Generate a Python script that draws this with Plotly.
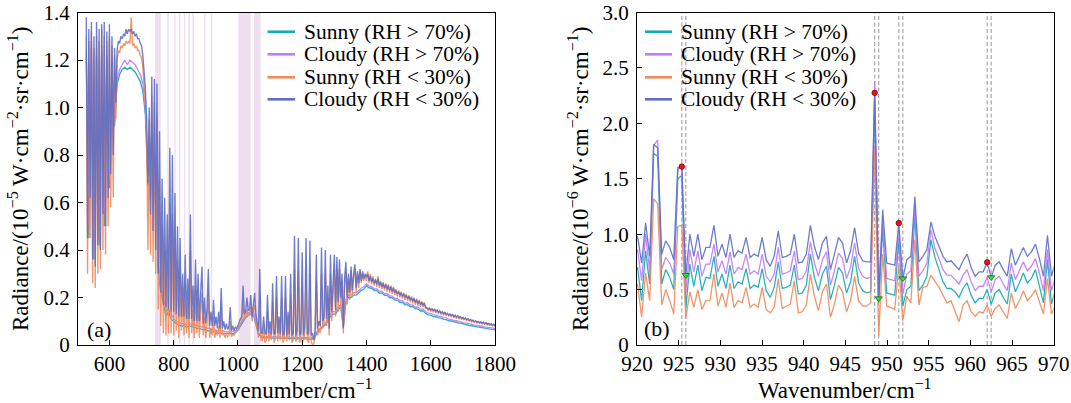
import numpy as np
import plotly.graph_objects as go

# ---------------- data ----------------
series_names = ["Sunny (RH > 70%)", "Cloudy (RH > 70%)", "Sunny (RH < 30%)", "Cloudy (RH < 30%)"]
series_colors = ["#17a9b8", "#c27bfa", "#f08a5c", "#5f6fc6"]

# panel (a): spectrum, 528-1800 cm-1
wn_a_first = 528.0
wn_a_step_fine = 4.0     # Sunny/Cloudy (RH < 30%)
wn_a_step_coarse = 8.0   # Sunny/Cloudy (RH > 70%)

rad_a_cloudy_dry = [
    1.38, 0.45, 1.33, 0.62, 1.36, 0.36, 1.30, 0.33, 1.36, 0.42,
    1.33, 0.40, 1.35, 0.55, 1.36, 0.50, 1.32, 0.62, 1.35, 0.72,
    1.30, 0.80, 1.25, 1.02, 1.24, 1.28, 1.27, 1.30, 1.29, 1.31,
    1.30, 1.33, 1.31, 1.33, 1.32, 1.33, 1.31, 1.32, 1.30, 1.31,
    1.29, 1.29, 1.27, 1.26, 1.22, 1.16, 1.08, 0.95, 0.68, 1.00,
    0.55, 1.13, 0.48, 1.12, 0.40, 1.10, 0.30, 0.90, 0.22, 0.70,
    0.17, 0.62, 0.16, 0.55, 0.15, 0.83, 0.14, 0.80, 0.14, 0.64,
    0.13, 0.50, 0.12, 0.45, 0.12, 0.30, 0.12, 0.38, 0.11, 0.28,
    0.11, 0.55, 0.11, 0.25, 0.10, 0.36, 0.10, 0.30, 0.10, 0.22,
    0.33, 0.09, 0.20, 0.09, 0.16, 0.32, 0.08, 0.14, 0.08, 0.19,
    0.08, 0.12, 0.07, 0.14, 0.07, 0.24, 0.07, 0.10, 0.065, 0.09,
    0.065, 0.08, 0.16, 0.06, 0.08, 0.06, 0.075, 0.07, 0.085, 0.10,
    0.11, 0.12, 0.25, 0.13, 0.14, 0.20, 0.145, 0.15, 0.21, 0.12,
    0.16, 0.22, 0.13, 0.09, 0.06, 0.32, 0.05, 0.05, 0.12, 0.05,
    0.045, 0.21, 0.05, 0.10, 0.045, 0.26, 0.05, 0.045, 0.29, 0.05,
    0.12, 0.045, 0.29, 0.04, 0.05, 0.29, 0.04, 0.14, 0.045, 0.30,
    0.04, 0.05, 0.46, 0.04, 0.06, 0.45, 0.04, 0.05, 0.39, 0.04,
    0.08, 0.45, 0.045, 0.05, 0.44, 0.04, 0.05, 0.02, 0.06, 0.38,
    0.07, 0.10, 0.08, 0.41, 0.10, 0.12, 0.40, 0.11, 0.25, 0.07,
    0.38, 0.14, 0.30, 0.38, 0.15, 0.37, 0.18, 0.36, 0.20, 0.30,
    0.07, 0.28, 0.35, 0.20, 0.30, 0.22, 0.33, 0.23, 0.30, 0.34,
    0.24, 0.31, 0.26, 0.32, 0.27, 0.31, 0.28, 0.30, 0.285, 0.30,
    0.27, 0.29, 0.265, 0.28, 0.26, 0.275, 0.255, 0.28, 0.25, 0.265,
    0.245, 0.26, 0.24, 0.255, 0.235, 0.25, 0.23, 0.245, 0.225, 0.24,
    0.22, 0.23, 0.215, 0.225, 0.21, 0.22, 0.205, 0.215, 0.20, 0.21,
    0.195, 0.205, 0.19, 0.20, 0.185, 0.195, 0.18, 0.19, 0.175, 0.185,
    0.17, 0.18, 0.168, 0.175, 0.16, 0.155, 0.15, 0.155, 0.148, 0.152,
    0.145, 0.15, 0.142, 0.146, 0.138, 0.143, 0.135, 0.14, 0.132, 0.137,
    0.13, 0.133, 0.126, 0.13, 0.124, 0.128, 0.12, 0.125, 0.118, 0.122,
    0.115, 0.119, 0.112, 0.116, 0.11, 0.113, 0.107, 0.11, 0.104, 0.107,
    0.101, 0.104, 0.098, 0.101, 0.096, 0.099, 0.094, 0.097, 0.092, 0.095,
    0.09, 0.093, 0.088, 0.09, 0.086, 0.089, 0.084, 0.087, 0.083,
]

rad_a_sunny_dry = [
    1.30, 0.30, 1.28, 0.45, 1.32, 0.26, 1.25, 0.24, 1.30, 0.30,
    1.28, 0.32, 1.33, 0.40, 1.30, 0.38, 1.28, 0.50, 1.30, 0.58,
    1.26, 0.62, 1.22, 0.95, 1.20, 1.24, 1.23, 1.26, 1.25, 1.27,
    1.26, 1.28, 1.27, 1.28, 1.27, 1.38, 1.26, 1.27, 1.25, 1.26,
    1.24, 1.24, 1.22, 1.21, 1.17, 1.10, 1.02, 0.88, 0.40, 0.95,
    0.38, 1.05, 0.35, 1.02, 0.30, 0.95, 0.15, 0.70, 0.08, 0.50,
    0.05, 0.40, 0.04, 0.35, 0.05, 0.60, 0.05, 0.55, 0.04, 0.45,
    0.06, 0.35, 0.03, 0.32, 0.06, 0.20, 0.04, 0.26, 0.05, 0.18,
    0.03, 0.40, 0.05, 0.15, 0.03, 0.25, 0.05, 0.20, 0.03, 0.14,
    0.22, 0.04, 0.12, 0.03, 0.09, 0.22, 0.03, 0.07, 0.04, 0.12,
    0.03, 0.06, 0.04, 0.08, 0.03, 0.16, 0.04, 0.05, 0.03, 0.05,
    0.035, 0.04, 0.10, 0.035, 0.045, 0.04, 0.05, 0.055, 0.065, 0.08,
    0.09, 0.10, 0.18, 0.11, 0.12, 0.15, 0.125, 0.13, 0.16, 0.10,
    0.14, 0.17, 0.11, 0.06, 0.03, 0.22, 0.02, 0.02, 0.08, 0.01,
    0.02, 0.14, 0.015, 0.06, 0.02, 0.18, 0.01, 0.025, 0.20, 0.015,
    0.08, 0.02, 0.20, 0.01, 0.025, 0.20, 0.015, 0.09, 0.02, 0.21,
    0.01, 0.02, 0.32, 0.015, 0.03, 0.31, 0.01, 0.02, 0.27, 0.015,
    0.05, 0.31, 0.02, 0.01, 0.30, 0.015, 0.0, 0.005, 0.03, 0.27,
    0.04, 0.07, 0.05, 0.30, 0.07, 0.09, 0.30, 0.08, 0.20, 0.04,
    0.30, 0.10, 0.25, 0.32, 0.12, 0.32, 0.14, 0.32, 0.16, 0.27,
    0.05, 0.25, 0.32, 0.17, 0.28, 0.19, 0.31, 0.21, 0.29, 0.32,
    0.22, 0.30, 0.24, 0.31, 0.26, 0.30, 0.27, 0.29, 0.27, 0.31,
    0.26, 0.30, 0.255, 0.29, 0.25, 0.28, 0.245, 0.29, 0.24, 0.27,
    0.235, 0.265, 0.23, 0.26, 0.225, 0.255, 0.22, 0.25, 0.215, 0.245,
    0.21, 0.235, 0.205, 0.23, 0.20, 0.225, 0.195, 0.22, 0.19, 0.215,
    0.185, 0.21, 0.18, 0.205, 0.175, 0.20, 0.17, 0.195, 0.165, 0.19,
    0.16, 0.185, 0.16, 0.18, 0.152, 0.16, 0.143, 0.158, 0.14, 0.155,
    0.137, 0.152, 0.134, 0.149, 0.13, 0.145, 0.128, 0.142, 0.125, 0.139,
    0.122, 0.135, 0.12, 0.132, 0.117, 0.13, 0.114, 0.127, 0.111, 0.124,
    0.108, 0.121, 0.106, 0.118, 0.104, 0.115, 0.101, 0.112, 0.099, 0.109,
    0.096, 0.106, 0.094, 0.103, 0.091, 0.101, 0.089, 0.099, 0.087, 0.097,
    0.085, 0.095, 0.083, 0.092, 0.081, 0.09, 0.079, 0.088, 0.078,
]

rad_a_cloudy_humid = [
    1.25, 0.50, 1.28, 0.40, 1.25, 0.45, 1.26, 0.55, 1.22, 0.70,
    1.18, 0.95, 1.12, 1.16, 1.18, 1.20, 1.18, 1.20, 1.19, 1.18,
    1.16, 1.14, 1.10, 1.00, 0.70, 0.85, 0.60, 0.80, 0.35, 0.25,
    0.20, 0.14, 0.15, 0.13, 0.11, 0.10, 0.095, 0.09, 0.09, 0.085,
    0.09, 0.088, 0.085, 0.08, 0.08, 0.075, 0.075, 0.07, 0.07, 0.065,
    0.065, 0.06, 0.06, 0.06, 0.055, 0.055, 0.055, 0.055, 0.06, 0.07,
    0.09, 0.11, 0.125, 0.135, 0.14, 0.14, 0.10, 0.05, 0.04, 0.035,
    0.035, 0.035, 0.033, 0.035, 0.033, 0.034, 0.032, 0.034, 0.032, 0.033,
    0.031, 0.033, 0.031, 0.032, 0.03, 0.032, 0.03, 0.03, 0.03, 0.04,
    0.06, 0.07, 0.08, 0.09, 0.11, 0.13, 0.14, 0.14, 0.16, 0.17,
    0.08, 0.19, 0.21, 0.21, 0.22, 0.22, 0.23, 0.24, 0.245, 0.258,
    0.248, 0.247, 0.236, 0.237, 0.226, 0.227, 0.216, 0.217, 0.206, 0.207,
    0.196, 0.197, 0.186, 0.187, 0.176, 0.178, 0.168, 0.169, 0.159, 0.16,
    0.15, 0.152, 0.14, 0.134, 0.133, 0.127, 0.126, 0.121, 0.12, 0.115,
    0.114, 0.109, 0.108, 0.103, 0.102, 0.098, 0.097, 0.093, 0.092, 0.088,
    0.087, 0.084, 0.083, 0.08, 0.079, 0.076, 0.075, 0.073, 0.072, 0.07,
]

rad_a_sunny_humid = [
    1.22, 0.45, 1.25, 0.36, 1.22, 0.42, 1.23, 0.50, 1.20, 0.66,
    1.15, 0.92, 1.10, 1.14, 1.16, 1.17, 1.16, 1.17, 1.16, 1.15,
    1.13, 1.11, 1.07, 0.97, 0.67, 0.82, 0.57, 0.77, 0.32, 0.22,
    0.18, 0.12, 0.14, 0.11, 0.10, 0.09, 0.085, 0.08, 0.08, 0.075,
    0.08, 0.078, 0.075, 0.07, 0.07, 0.065, 0.065, 0.06, 0.06, 0.055,
    0.055, 0.05, 0.05, 0.05, 0.048, 0.048, 0.048, 0.048, 0.052, 0.062,
    0.08, 0.10, 0.115, 0.125, 0.13, 0.13, 0.09, 0.045, 0.035, 0.03,
    0.03, 0.03, 0.028, 0.03, 0.028, 0.029, 0.027, 0.029, 0.027, 0.028,
    0.026, 0.028, 0.026, 0.027, 0.025, 0.027, 0.025, 0.025, 0.025, 0.035,
    0.055, 0.065, 0.075, 0.085, 0.10, 0.12, 0.13, 0.13, 0.15, 0.16,
    0.075, 0.18, 0.20, 0.20, 0.21, 0.21, 0.22, 0.23, 0.235, 0.25,
    0.241, 0.239, 0.229, 0.229, 0.219, 0.219, 0.209, 0.209, 0.199, 0.199,
    0.189, 0.189, 0.179, 0.179, 0.169, 0.17, 0.161, 0.161, 0.152, 0.152,
    0.143, 0.144, 0.133, 0.127, 0.126, 0.12, 0.119, 0.114, 0.113, 0.108,
    0.107, 0.102, 0.101, 0.097, 0.096, 0.092, 0.091, 0.087, 0.086, 0.082,
    0.081, 0.078, 0.077, 0.074, 0.073, 0.07, 0.069, 0.067, 0.066, 0.064,
]

# shaded spectral windows in panel (a), cm-1
band_lo = [742, 780, 802, 816, 832, 846, 858, 895, 916, 1001, 1050]
band_hi = [760, 785, 806, 821, 836, 851, 863, 899, 920, 1039.5, 1070.5]

# panel (b): 920-970 cm-1, instrument channel spacing
wn_b_first = 919.59
wn_b_step = 0.48214

rad_b_cloudy_dry = [
    0.90, 0.98, 0.74, 1.10, 0.80, 1.81, 1.78, 0.82, 0.94, 0.88,
    0.77, 1.60, 1.61, 0.63, 1.00, 0.80, 1.00, 0.77, 0.88, 0.88,
    1.08, 0.80, 0.91, 0.79, 1.00, 0.79, 0.85, 0.83, 0.97, 0.79,
    0.82, 0.80, 0.97, 0.77, 0.71, 0.80, 1.03, 0.79, 0.80, 0.82,
    1.00, 0.74, 0.75, 0.82, 1.08, 0.89, 0.77, 0.92, 0.98, 0.68,
    0.82, 0.97, 0.92, 0.74, 0.85, 1.06, 0.83, 0.76, 0.75, 0.75,
    2.275, 0.42, 1.22, 0.74, 0.73, 0.72, 1.10, 0.60, 0.77, 0.80,
    1.34, 0.75, 0.80, 0.86, 1.11, 0.98, 0.89, 0.80, 0.75, 0.76,
    0.72, 0.68, 0.76, 0.82, 0.70, 0.62, 0.66, 0.66, 0.746, 0.61,
    0.72, 0.75, 0.68, 0.62, 0.87, 0.72, 0.80, 0.88, 0.80, 0.84,
    0.91, 0.78, 0.62, 0.99, 0.62, 0.75,
]
rad_b_cloudy_humid = [
    0.78, 0.86, 0.58, 1.00, 0.66, 1.80, 1.85, 0.68, 0.79, 0.74,
    0.64, 1.58, 1.62, 0.48, 0.86, 0.66, 0.85, 0.62, 0.73, 0.73,
    0.91, 0.66, 0.76, 0.64, 0.84, 0.64, 0.70, 0.68, 0.82, 0.64,
    0.67, 0.64, 0.82, 0.62, 0.57, 0.64, 0.88, 0.64, 0.65, 0.67,
    0.85, 0.59, 0.60, 0.67, 0.93, 0.74, 0.62, 0.77, 0.84, 0.54,
    0.67, 0.83, 0.78, 0.60, 0.70, 0.92, 0.69, 0.62, 0.60, 0.61,
    2.38, 0.52, 1.12, 0.60, 0.59, 0.58, 1.02, 0.46, 0.64, 0.67,
    1.26, 0.62, 0.67, 0.74, 1.04, 0.87, 0.78, 0.68, 0.63, 0.63,
    0.59, 0.55, 0.63, 0.68, 0.57, 0.49, 0.53, 0.53, 0.61, 0.48,
    0.59, 0.62, 0.55, 0.49, 0.74, 0.59, 0.67, 0.75, 0.67, 0.71,
    0.78, 0.65, 0.49, 0.86, 0.49, 0.62,
]
rad_b_sunny_humid = [
    0.62, 0.70, 0.40, 0.85, 0.55, 1.73, 1.70, 0.55, 0.68, 0.61,
    0.50, 1.50, 1.53, 0.33, 0.73, 0.53, 0.72, 0.49, 0.61, 0.60,
    0.80, 0.53, 0.64, 0.51, 0.72, 0.51, 0.57, 0.55, 0.69, 0.51,
    0.54, 0.52, 0.69, 0.49, 0.43, 0.52, 0.75, 0.51, 0.52, 0.54,
    0.72, 0.46, 0.47, 0.54, 0.82, 0.61, 0.49, 0.64, 0.71, 0.41,
    0.54, 0.70, 0.65, 0.47, 0.57, 0.80, 0.56, 0.49, 0.47, 0.48,
    2.20, 0.38, 1.05, 0.47, 0.46, 0.45, 0.96, 0.35, 0.50, 0.53,
    1.18, 0.49, 0.54, 0.62, 0.95, 0.79, 0.68, 0.57, 0.51, 0.51,
    0.48, 0.43, 0.51, 0.56, 0.45, 0.38, 0.42, 0.42, 0.50, 0.37,
    0.47, 0.50, 0.43, 0.37, 0.64, 0.48, 0.56, 0.65, 0.56, 0.60,
    0.68, 0.54, 0.38, 0.77, 0.37, 0.50,
]
rad_b_sunny_dry = [
    0.47, 0.55, 0.25, 0.65, 0.40, 1.32, 1.27, 0.36, 0.50, 0.40,
    0.28, 1.07, 1.08, 0.24, 0.48, 0.34, 0.50, 0.32, 0.40, 0.40,
    0.64, 0.35, 0.47, 0.34, 0.56, 0.34, 0.40, 0.38, 0.52, 0.34,
    0.37, 0.34, 0.52, 0.32, 0.29, 0.34, 0.60, 0.33, 0.35, 0.37,
    0.58, 0.29, 0.30, 0.36, 0.64, 0.44, 0.31, 0.48, 0.55, 0.25,
    0.37, 0.54, 0.48, 0.30, 0.40, 0.62, 0.40, 0.35, 0.35, 0.38,
    1.78, 0.08, 0.82, 0.35, 0.34, 0.32, 0.72, 0.22, 0.44, 0.38,
    0.95, 0.36, 0.52, 0.53, 0.63, 0.58, 0.52, 0.45, 0.38, 0.40,
    0.30, 0.21, 0.36, 0.40, 0.30, 0.26, 0.30, 0.29, 0.36, 0.26,
    0.33, 0.36, 0.30, 0.24, 0.47, 0.33, 0.40, 0.49, 0.40, 0.44,
    0.50, 0.38, 0.28, 0.60, 0.28, 0.36,
]
peak_idx = [12, 60, 66, 88]     # local maxima marked in red
trough_idx = [13, 61, 67, 89]   # adjacent minima marked in green

xticks_a = [600, 800, 1000, 1200, 1400, 1600, 1800]
yticks_a = [0, 0.2, 0.4, 0.6, 0.8, 1.0, 1.2, 1.4]
yticklabels_a = ["0", "0.2", "0.4", "0.6", "0.8", "1.0", "1.2", "1.4"]
xticks_b = [920, 925, 930, 935, 940, 945, 950, 955, 960, 965, 970]
yticks_b = [0, 0.5, 1.0, 1.5, 2.0, 2.5, 3.0]
yticklabels_b = ["0", "0.5", "1.0", "1.5", "2.0", "2.5", "3.0"]

# ---------------- layout constants ----------------
W, H = 1071, 403
FONT = "Liberation Serif"
def PX(px): return px / W
def PY(py): return 1 - py / H

A_X = (77.9, 495.0)
B_X = (637.0, 1053.7)
Y_PX = (12.5, 345.0)

wn_a_fine = wn_a_first + wn_a_step_fine * np.arange(len(rad_a_cloudy_dry))
wn_a_coarse = wn_a_first + wn_a_step_coarse * np.arange(len(rad_a_cloudy_humid))
wn_b = wn_b_first + wn_b_step * np.arange(len(rad_b_cloudy_dry))

fig = go.Figure()

a_series = [(wn_a_coarse, rad_a_sunny_humid), (wn_a_coarse, rad_a_cloudy_humid),
            (wn_a_fine, rad_a_sunny_dry), (wn_a_fine, rad_a_cloudy_dry)]
for (x, y), name, col in zip(a_series, series_names, series_colors):
    fig.add_trace(go.Scatter(x=x, y=y, mode="lines", name=name, showlegend=False,
                             line=dict(color=col, width=1.35), opacity=0.9,
                             xaxis="x", yaxis="y"))

b_series = [rad_b_sunny_humid, rad_b_cloudy_humid, rad_b_sunny_dry, rad_b_cloudy_dry]
for y, name, col in zip(b_series, series_names, series_colors):
    fig.add_trace(go.Scatter(x=wn_b, y=y, mode="lines", name=name, showlegend=False,
                             line=dict(color=col, width=1.3), opacity=0.9,
                             xaxis="x2", yaxis="y2"))

fig.add_trace(go.Scatter(x=[wn_b[i] for i in peak_idx], y=[rad_b_cloudy_dry[i] for i in peak_idx],
                         mode="markers", showlegend=False, xaxis="x2", yaxis="y2",
                         marker=dict(symbol="circle", size=5.5, color="#e8141c",
                                     line=dict(color="#8a0000", width=0.8))))
fig.add_trace(go.Scatter(x=[wn_b[i] for i in trough_idx], y=[rad_b_cloudy_dry[i] for i in trough_idx],
                         mode="markers", showlegend=False, xaxis="x2", yaxis="y2",
                         marker=dict(symbol="triangle-down", size=6.5, color="#33dd33",
                                     line=dict(color="#1a6e1a", width=0.8))))

shapes = []
for lo, hi in zip(band_lo, band_hi):
    shapes.append(dict(type="rect", xref="x", yref="y domain", x0=lo, x1=hi, y0=0, y1=1,
                       fillcolor="rgba(128,0,128,0.13)", line=dict(width=0), layer="below"))
for i in peak_idx + trough_idx:
    shapes.append(dict(type="line", xref="x2", yref="y2 domain", x0=wn_b[i], x1=wn_b[i], y0=0, y1=1,
                       line=dict(color="#a8a8a8", width=1.2, dash="4px,2.5px"), layer="below"))

annotations = []
legend_rows = [31.7, 54.3, 77.3, 99.3]
for (ls, le, tx) in [(267.5, 295.0, 302.0), (645.0, 672.0, 679.0)]:
    for row, name, col in zip(legend_rows, series_names, series_colors):
        shapes.append(dict(type="line", xref="paper", yref="paper", x0=PX(ls), x1=PX(le),
                           y0=PY(row), y1=PY(row), line=dict(color=col, width=2.6)))
        annotations.append(dict(text=name, x=PX(tx), y=PY(row), xref="paper", yref="paper",
                                xanchor="left", yanchor="middle", showarrow=False,
                                font=dict(family=FONT, size=21.5, color="black")))

title_font = dict(family=FONT, size=23, color="black")
annotations += [
    dict(text="Radiance/(10<sup>−5</sup> W·cm<sup>−2</sup>·sr·cm<sup>−1</sup>)", x=PX(18), y=PY(179),
         xref="paper", yref="paper", textangle=-90, showarrow=False, font=title_font,
         xanchor="center", yanchor="middle"),
    dict(text="Radiance/(10<sup>−6</sup> W·cm<sup>−2</sup>·sr·cm<sup>−1</sup>)", x=PX(578), y=PY(179),
         xref="paper", yref="paper", textangle=-90, showarrow=False, font=title_font,
         xanchor="center", yanchor="middle"),
    dict(text="Wavenumber/cm<sup>−1</sup>", x=PX(sum(A_X) / 2), y=PY(389), xref="paper", yref="paper",
         showarrow=False, font=title_font, xanchor="center", yanchor="middle", height=24),
    dict(text="Wavenumber/cm<sup>−1</sup>", x=PX(sum(B_X) / 2), y=PY(389), xref="paper", yref="paper",
         showarrow=False, font=title_font, xanchor="center", yanchor="middle", height=24),
    dict(text="(a)", x=PX(99), y=PY(329), xref="paper", yref="paper", showarrow=False,
         font=dict(family=FONT, size=22, color="black"), xanchor="center", yanchor="middle"),
    dict(text="(b)", x=PX(656.5), y=PY(328), xref="paper", yref="paper", showarrow=False,
         font=dict(family=FONT, size=22, color="black"), xanchor="center", yanchor="middle"),
]

axis_common = dict(showline=True, linecolor="black", linewidth=1.1, mirror=True,
                   ticks="inside", ticklen=5, tickwidth=1, tickcolor="black",
                   showgrid=False, zeroline=False, automargin=False,
                   tickfont=dict(family=FONT, size=21, color="black"))
y_dom = [PY(Y_PX[1]), PY(Y_PX[0])]

fig.update_layout(
    template="none", width=W, height=H, margin=dict(l=0, r=0, t=0, b=0),
    paper_bgcolor="white", plot_bgcolor="white", showlegend=False,
    xaxis=dict(domain=[PX(A_X[0]), PX(A_X[1])], range=[502, 1800], anchor="y",
               tickvals=xticks_a, ticktext=[str(v) for v in xticks_a], **axis_common),
    yaxis=dict(domain=y_dom, range=[0, 1.4], anchor="x", ticklabelstandoff=3,
               tickvals=yticks_a, ticktext=yticklabels_a, **axis_common),
    xaxis2=dict(domain=[PX(B_X[0]), PX(B_X[1])], range=[920, 970], anchor="y2",
                tickvals=xticks_b, ticktext=[str(v) for v in xticks_b], **axis_common),
    yaxis2=dict(domain=y_dom, range=[0, 3.0], anchor="x2", ticklabelstandoff=3,
                tickvals=yticks_b, ticktext=yticklabels_b, **axis_common),
    shapes=shapes, annotations=annotations,
)

fig.write_html("out.html", config={"displayModeBar": False},
               post_script="document.body.style.margin='0';document.body.style.overflow='hidden';")
